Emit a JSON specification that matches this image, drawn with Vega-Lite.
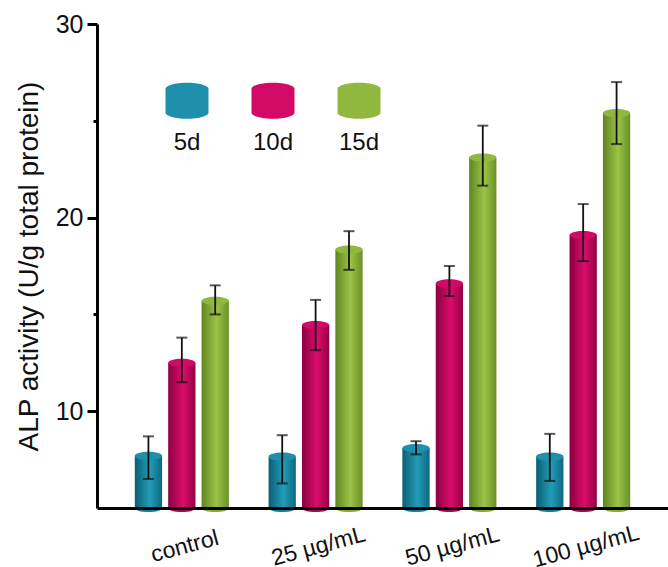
{
  "$schema": "https://vega.github.io/schema/vega-lite/v6.json",
  "autosize": "none",
  "width": 571,
  "height": 484,
  "padding": {"left": 97, "top": 24, "right": 0, "bottom": 59},
  "background": "white",
  "config": {
    "view": {"stroke": null},
    "font": "Liberation Sans",
    "axis": {"labelFont": "Liberation Sans", "titleFont": "Liberation Sans", "labelColor": "#111", "titleColor": "#111", "grid": false}
  },
  "data": {
    "values": [
      {"group": "control", "series": "5d", "value": 7.7, "lo": 6.5, "hi": 8.7},
      {"group": "control", "series": "10d", "value": 12.5, "lo": 11.5, "hi": 13.8},
      {"group": "control", "series": "15d", "value": 15.7, "lo": 15.0, "hi": 16.5},
      {"group": "25 µg/mL", "series": "5d", "value": 7.65, "lo": 6.27, "hi": 8.76},
      {"group": "25 µg/mL", "series": "10d", "value": 14.45, "lo": 13.15, "hi": 15.75},
      {"group": "25 µg/mL", "series": "15d", "value": 18.35, "lo": 17.3, "hi": 19.3},
      {"group": "50 µg/mL", "series": "5d", "value": 8.1, "lo": 7.77, "hi": 8.45},
      {"group": "50 µg/mL", "series": "10d", "value": 16.6, "lo": 15.95, "hi": 17.5},
      {"group": "50 µg/mL", "series": "15d", "value": 23.1, "lo": 21.65, "hi": 24.75},
      {"group": "100 µg/mL", "series": "5d", "value": 7.65, "lo": 6.4, "hi": 8.83},
      {"group": "100 µg/mL", "series": "10d", "value": 19.1, "lo": 17.75, "hi": 20.7},
      {"group": "100 µg/mL", "series": "15d", "value": 25.4, "lo": 23.8, "hi": 27.0}
    ]
  },
  "encoding": {
    "x": {
      "field": "group", "type": "nominal",
      "scale": {"domain": ["control", "25 µg/mL", "50 µg/mL", "100 µg/mL"], "paddingInner": 0, "paddingOuter": 0.134, "align": 0.5},
      "axis": {
        "title": null, "ticks": false, "domainColor": "#000", "domainWidth": 3, "zindex": 1,
        "labelAngle": -15, "labelAlign": "center", "labelBaseline": "middle",
        "labelFontSize": 23, "labelPadding": 38, "labelOffset": 3
      }
    },
    "xOffset": {
      "field": "series", "type": "nominal",
      "scale": {"domain": ["5d", "10d", "15d"], "paddingInner": 0.183, "paddingOuter": 0.595}
    }
  },
  "layer": [
    {
      "mark": {"type": "point", "filled": true, "opacity": 1, "size": 745, "shape": "M-1,0 A1,0.3 0 1,1 1,0 A1,0.3 0 1,1 -1,0 Z"},
      "encoding": {
        "y": {"datum": 5, "type": "quantitative"},
        "color": {"field": "series", "type": "nominal", "scale": {"domain": ["5d", "10d", "15d"], "range": ["#177f98", "#b5005a", "#84ab36"]}, "legend": null}
      }
    },
    {
      "transform": [{"filter": "datum.series === '5d'"}],
      "mark": {"type": "bar", "fill": {"gradient": "linear", "x1": 0, "x2": 1, "y1": 0, "y2": 0, "stops": [{"offset": 0, "color": "#0b5f73"}, {"offset": 0.55, "color": "#229cb8"}, {"offset": 1, "color": "#0e6880"}]}},
      "encoding": {
        "y": {"field": "value", "type": "quantitative", "scale": {"domain": [5, 30], "zero": false, "nice": false},
          "axis": {
            "title": "ALP activity (U/g total protein)", "titleFontSize": 28, "titleFontWeight": "normal", "titlePadding": 12,
            "values": [10, 15, 20, 25, 30], "zindex": 1,
            "labelExpr": "datum.value % 10 === 0 ? datum.label : ''",
            "labelFontSize": 25, "labelPadding": 4,
            "domainColor": "#000", "domainWidth": 3,
            "tickColor": "#000", "tickWidth": 3,
            "tickSize": {"condition": {"test": "datum.value % 10 === 0", "value": 10}, "value": 4}
          }},
        "y2": {"datum": 5}
      }
    },
    {
      "transform": [{"filter": "datum.series === '10d'"}],
      "mark": {"type": "bar", "fill": {"gradient": "linear", "x1": 0, "x2": 1, "y1": 0, "y2": 0, "stops": [{"offset": 0, "color": "#8a0040"}, {"offset": 0.55, "color": "#db0d6c"}, {"offset": 1, "color": "#930046"}]}},
      "encoding": {"y": {"field": "value", "type": "quantitative"}, "y2": {"datum": 5}}
    },
    {
      "transform": [{"filter": "datum.series === '15d'"}],
      "mark": {"type": "bar", "fill": {"gradient": "linear", "x1": 0, "x2": 1, "y1": 0, "y2": 0, "stops": [{"offset": 0, "color": "#5f8520"}, {"offset": 0.55, "color": "#9cc448"}, {"offset": 1, "color": "#6a9026"}]}},
      "encoding": {"y": {"field": "value", "type": "quantitative"}, "y2": {"datum": 5}}
    },
    {
      "mark": {"type": "point", "filled": true, "opacity": 1, "size": 745, "shape": "M-1,0 A1,0.3 0 1,1 1,0 A1,0.3 0 1,1 -1,0 Z"},
      "encoding": {
        "y": {"field": "value", "type": "quantitative"},
        "color": {
          "field": "series", "type": "nominal",
          "scale": {"domain": ["5d", "10d", "15d"], "range": ["#1f90ab", "#d00a66", "#90b83e"]},
          "legend": {
            "title": null, "orient": "none", "legendX": 68.5, "legendY": 55,
            "direction": "horizontal", "columns": 3, "columnPadding": 43, "padding": 0,
            "symbolType": "M-1,-0.56 A1,0.28 0 0,1 1,-0.56 L1,0.56 A1,0.28 0 0,1 -1,0.56 Z",
            "symbolSize": 1849, "symbolStrokeWidth": 0, "symbolOpacity": 1,
            "labelFontSize": 24, "labelFont": "Liberation Sans", "labelColor": "#111",
            "labelAlign": "center", "labelOffset": -21.5,
            "encode": {"labels": {"update": {"dy": {"value": 42}}}}
          }
        }
      }
    },
    {
      "mark": {"type": "rule", "color": "#111", "strokeWidth": 1.8},
      "encoding": {"y": {"field": "lo", "type": "quantitative"}, "y2": {"field": "hi"}}
    },
    {
      "mark": {"type": "tick", "color": "#111", "size": 11, "thickness": 2},
      "encoding": {"y": {"field": "lo", "type": "quantitative"}}
    },
    {
      "mark": {"type": "tick", "color": "#111", "size": 11, "thickness": 2},
      "encoding": {"y": {"field": "hi", "type": "quantitative"}}
    }
  ],
  "resolve": {"scale": {"color": "independent"}}
}
